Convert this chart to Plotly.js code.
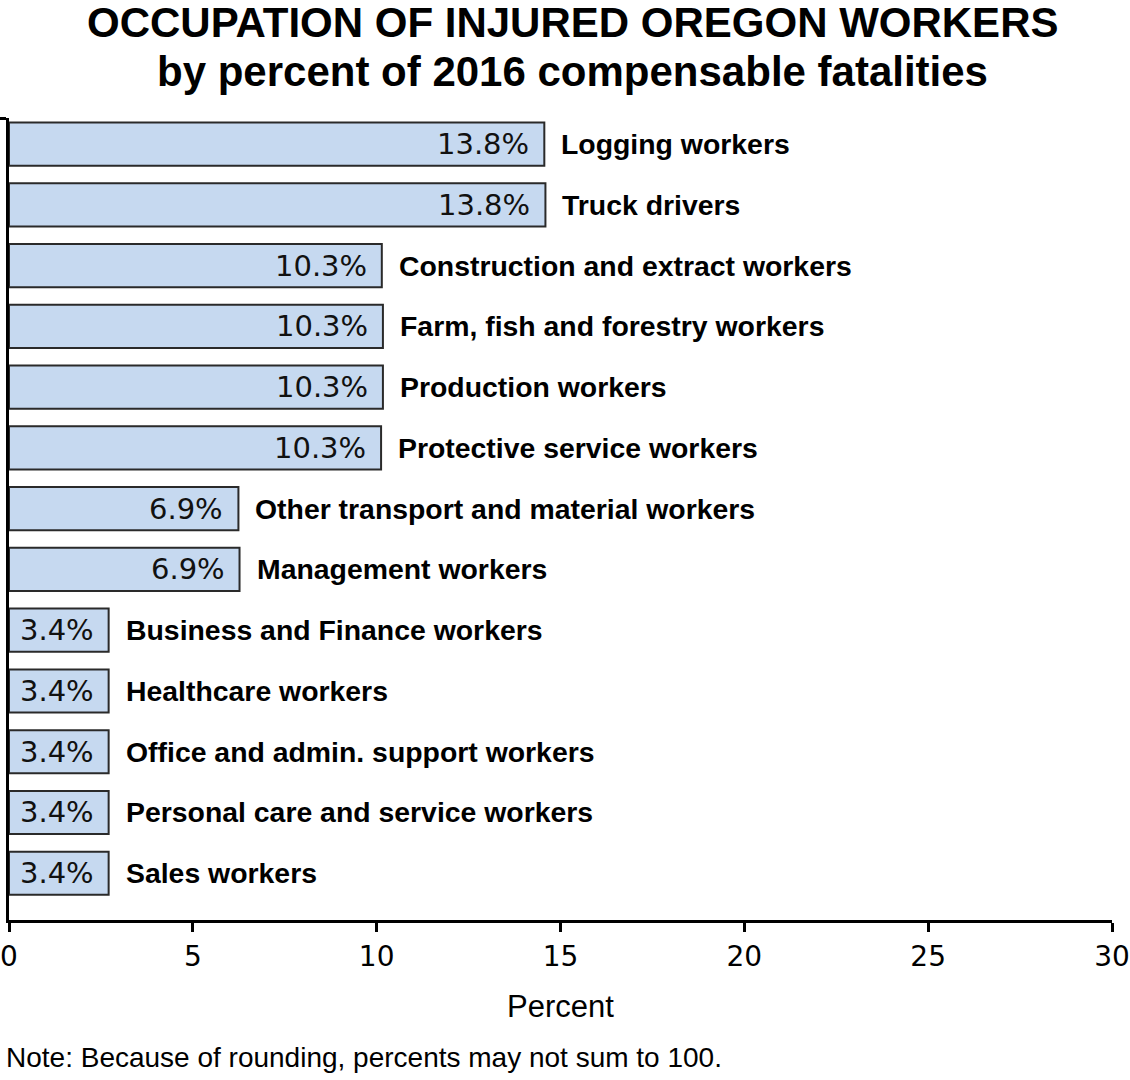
<!DOCTYPE html>
<html>
<head>
<meta charset="utf-8">
<script src="https://cdn.plot.ly/plotly-3.0.1.min.js"></script>
<style>html,body{margin:0;padding:0;background:#fff}</style>
</head>
<body>
<div id="chart" style="width:1130px;height:1080px"></div>
<script>
// Occupation categories (top to bottom)
var categories = [
  "Logging workers",
  "Truck drivers",
  "Construction and extract workers",
  "Farm, fish and forestry workers",
  "Production workers",
  "Protective service workers",
  "Other transport and material workers",
  "Management workers",
  "Business and Finance workers",
  "Healthcare workers",
  "Office and admin. support workers",
  "Personal care and service workers",
  "Sales workers"
];
// Bar lengths as drawn in the reference (percent axis)
var barLengths = [14.56, 14.59, 10.14, 10.17, 10.17, 10.12, 6.24, 6.27, 2.71, 2.71, 2.71, 2.71, 2.71];
// Printed percent labels
var pctLabels = ["13.8%", "13.8%", "10.3%", "10.3%", "10.3%", "10.3%", "6.9%", "6.9%", "3.4%", "3.4%", "3.4%", "3.4%", "3.4%"];
var xTicks = [0, 5, 10, 15, 20, 25, 30];
var titleLines = ["OCCUPATION OF INJURED OREGON WORKERS", "by percent of 2016 compensable fatalities"];
var noteText = "Note: Because of rounding, percents may not sum to 100.";

var idx = categories.map(function (c, i) { return i; });

var trace = {
  type: "bar",
  orientation: "h",
  x: barLengths,
  y: idx,
  width: 0.71,
  marker: { color: "#c6d9f0", line: { color: "#2a2a2a", width: 2 } },
  hoverinfo: "skip"
};

var boldFont = { family: "Liberation Sans, Arial, sans-serif", size: 28.4, color: "#000", weight: "bold" };

var annotations = [];
categories.forEach(function (c, i) {
  annotations.push({
    x: barLengths[i], y: i, xref: "x", yref: "y",
    text: c, showarrow: false, xanchor: "left", yanchor: "middle",
    xshift: 15, font: boldFont
  });
  annotations.push({
    x: barLengths[i], y: i, xref: "x", yref: "y",
    text: pctLabels[i], showarrow: false, xanchor: "right", yanchor: "middle",
    xshift: -13,
    font: { family: "DejaVu Sans, Verdana, sans-serif", size: 29, color: "#111" }
  });
});

var titleX = (572 - 9) / 1103;
annotations.push({
  xref: "paper", yref: "paper", x: titleX, y: 1, xanchor: "center", yanchor: "middle",
  yshift: 96, text: titleLines[0], showarrow: false,
  font: { family: "Liberation Sans, Arial, sans-serif", size: 42, color: "#000", weight: "bold" }
});
annotations.push({
  xref: "paper", yref: "paper", x: titleX, y: 1, xanchor: "center", yanchor: "middle",
  yshift: 47, text: titleLines[1], showarrow: false,
  font: { family: "Liberation Sans, Arial, sans-serif", size: 42, color: "#000", weight: "bold" }
});

annotations.push({
  xref: "paper", yref: "paper", x: 0, y: 0, xanchor: "left", yanchor: "top",
  xshift: -5, yshift: -120,
  text: noteText,
  showarrow: false,
  font: { family: "Liberation Sans, Arial, sans-serif", size: 28, color: "#000" }
});

var layout = {
  width: 1130, height: 1080,
  margin: { l: 9, r: 18, t: 118, b: 160 },
  paper_bgcolor: "#fff", plot_bgcolor: "#fff",
  showlegend: false,
  xaxis: {
    range: [0, 30],
    tickvals: xTicks,
    ticktext: xTicks.map(String),
    ticklabeloverflow: "allow",
    ticks: "outside", ticklen: 9, tickwidth: 3, tickcolor: "#000",
    showline: true, linewidth: 3, linecolor: "#000",
    showgrid: false, zeroline: false,
    tickfont: { family: "DejaVu Sans", size: 28, color: "#000" },
    title: { text: "Percent", font: { family: "Liberation Sans, Arial, sans-serif", size: 31, color: "#000" }, standoff: 24 }
  },
  yaxis: {
    range: [12.77, -0.43],
    showline: true, linewidth: 3, linecolor: "#000",
    tickvals: [-0.43], ticktext: [""],
    ticks: "outside", ticklen: 6, tickwidth: 3, tickcolor: "#000",
    showgrid: false, zeroline: false
  },
  annotations: annotations,
  bargap: 0
};

Plotly.newPlot("chart", [trace], layout, { displayModeBar: false, staticPlot: true });
</script>
</body>
</html>
